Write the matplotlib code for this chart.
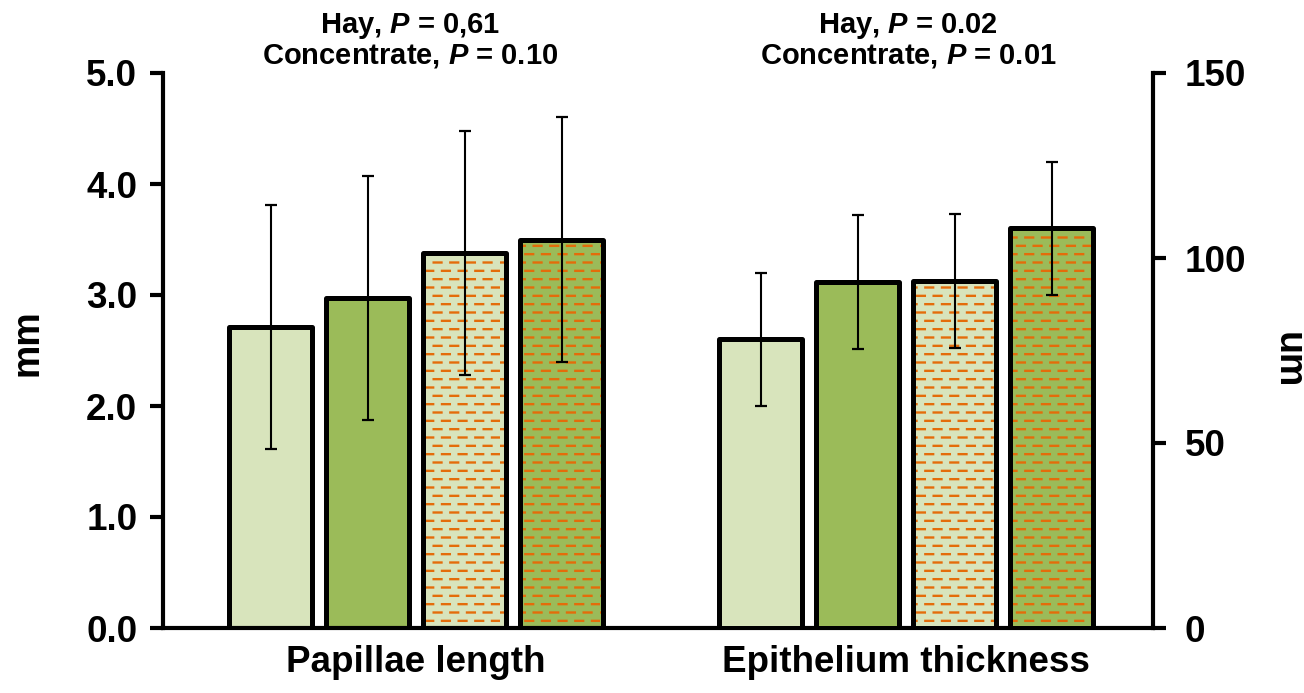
import matplotlib as mpl
mpl.use('Agg')
import matplotlib.pyplot as plt
import numpy as np
from matplotlib import hatch as mhatch
from matplotlib.path import Path

# data
groups = ['Papillae length', 'Epithelium thickness']
papillae_mean = [2.71, 2.97, 3.38, 3.50]      # mm
papillae_sd = [1.10, 1.10, 1.10, 1.10]
epithelium_mean = [78.0, 93.5, 93.8, 108.0]   # um
epithelium_sd = [18.0, 18.0, 18.0, 18.0]
stats_text = [('Hay, $P$ = 0,61', 'Concentrate, $P$ = 0.10'),
              ('Hay, $P$ = 0.02', 'Concentrate, $P$ = 0.01')]

fills = ['#D8E4BC', '#9BBB59', '#D8E4BC', '#9BBB59']
dashed = [False, False, True, True]
dash_color = '#E46C0A'


class DashRows(mhatch.HatchPatternBase):
    """staggered rows of short horizontal dashes, used for '-'"""
    rows, per_row, frac = 12, 6, 0.47

    def __init__(self, hatch, density):
        n = self.rows * self.per_row if '-' in hatch else 0
        self.num_vertices = 2 * n

    def set_vertices_and_codes(self, vertices, codes):
        i = 0
        for r in range(self.rows):
            y = (r + 0.5) / self.rows
            shift = 0.5 * (r % 2)
            for k in range(self.per_row):
                x0 = (k + shift + 0.02) / self.per_row
                vertices[i] = (x0, y)
                vertices[i + 1] = (x0 + self.frac / self.per_row, y)
                codes[i] = Path.MOVETO
                codes[i + 1] = Path.LINETO
                i += 2


mhatch._hatch_types[0] = DashRows

plt.rcParams['font.family'] = 'Liberation Sans'
plt.rcParams['font.weight'] = 'bold'
plt.rcParams['mathtext.fontset'] = 'custom'
plt.rcParams['mathtext.it'] = 'Liberation Sans:italic:bold'
plt.rcParams['mathtext.rm'] = 'Liberation Sans:bold'
plt.rcParams['hatch.linewidth'] = 1.7

fig = plt.figure(figsize=(13.04, 6.93), dpi=100)
ax = fig.add_axes([163 / 1304, 1 - 628 / 693, 990 / 1304, 555 / 693])
ax2 = ax.twinx()

step = 97 / 490
width = 83 / 490
offsets = (np.arange(4) - 1.5) * step


def draw_group(a, center, means, sds):
    xs = center + offsets
    for x, m, c, d in zip(xs, means, fills, dashed):
        a.bar(x, m, width, color=c, edgecolor=dash_color, linewidth=0,
              hatch='-' if d else None, zorder=2)
    a.bar(xs, means, width, fill=False, edgecolor='black', linewidth=3.6,
          joinstyle='round', zorder=3)
    a.errorbar(xs, means, yerr=sds, fmt='none', ecolor='black',
               elinewidth=1.5, capsize=4.5, capthick=1.6, zorder=4)


draw_group(ax, 0, papillae_mean, papillae_sd)
draw_group(ax2, 1, epithelium_mean, epithelium_sd)

ax.set_xlim((163 - 416) / 490, (1153 - 416) / 490)
ax.set_ylim(0, 5)
ax2.set_ylim(0, 150)

ax.set_yticks(np.arange(0, 5.1, 1.0))
ax.set_yticklabels(['%.1f' % v for v in np.arange(0, 5.1, 1.0)])
ax2.set_yticks([0, 50, 100, 150])

ax.set_xticks([0, 1])
ax.set_xticklabels(groups)
ax.tick_params(axis='x', length=0, pad=12, labelsize=26.5)
ax.tick_params(axis='y', length=9.5, width=3, pad=9, labelsize=26.5)
ax2.tick_params(axis='y', length=9, width=3, pad=14, labelsize=26.5)

for s in ['top', 'right']:
    ax.spines[s].set_visible(False)
for s in ['top', 'left', 'bottom']:
    ax2.spines[s].set_visible(False)
for s in [ax.spines['left'], ax.spines['bottom'], ax2.spines['right']]:
    s.set_linewidth(3)

fig.text(28 / 1304, 1 - 343 / 693, 'mm', rotation=90, fontsize=27,
         ha='center', va='center')
fig.text(1288 / 1304, 1 - 360 / 693, 'um', rotation=270, fontsize=27,
         ha='center', va='center')

for cx, (l1, l2) in zip([410, 908], stats_text):
    fig.text(cx / 1304, 1 - 33 / 693, l1, fontsize=21, ha='center',
             va='baseline')
    fig.text(cx / 1304, 1 - 63 / 693, l2, fontsize=21, ha='center',
             va='baseline')

fig.savefig('out.png', dpi=100)
